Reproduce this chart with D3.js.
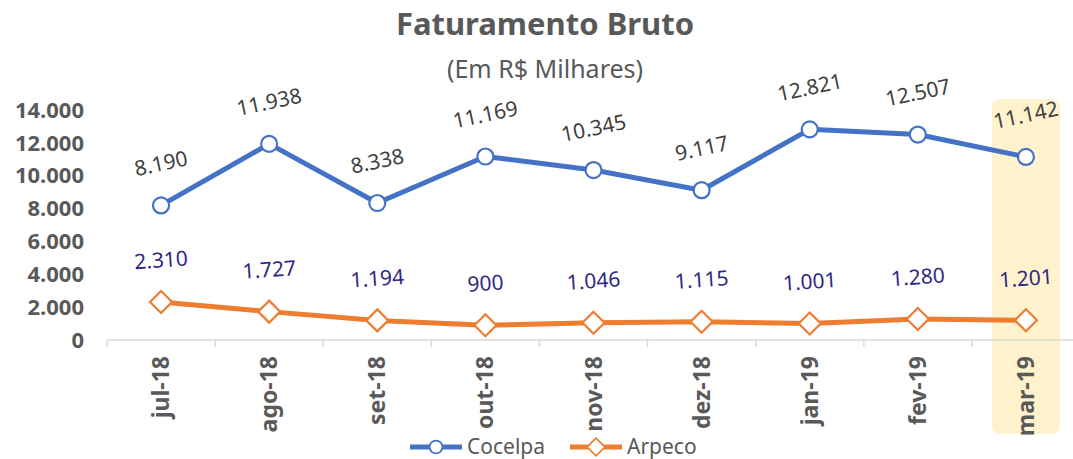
<!DOCTYPE html>
<html>
<head>
<meta charset="utf-8">
<script src="https://cdn.jsdelivr.net/npm/d3@7"></script>
<style>
  body { margin: 0; background: #fff; }
  svg { display: block; font-family: 'Noto Sans', 'Open Sans', sans-serif; }
</style>
</head>
<body>
<div id="chart"></div>
<script>
// data
const months = ['jul-18', 'ago-18', 'set-18', 'out-18', 'nov-18', 'dez-18', 'jan-19', 'fev-19', 'mar-19'];
const cocelpa = [8190, 11938, 8338, 11169, 10345, 9117, 12821, 12507, 11142];
const arpeco = [2310, 1727, 1194, 900, 1046, 1115, 1001, 1280, 1201];
const yTicks = [0, 2000, 4000, 6000, 8000, 10000, 12000, 14000];
const highlighted = 'mar-19';

const W = 1073;
const H = 459;
const M = { left: 107, right: 1080, top: 110, bottom: 340 };
const GRAY = '#595959';

const fmt = (v) => d3.format(',')(v).replace(/,/g, '.');

const svg = d3.select('#chart').append('svg')
  .attr('width', W)
  .attr('height', H);

const x = d3.scaleBand()
  .domain(months)
  .range([M.left, M.right]);

const y = d3.scaleLinear()
  .domain([0, 14000])
  .range([M.bottom, M.top]);

const cx = (d) => x(d) + x.bandwidth() / 2;

// highlight behind last month
svg.append('rect')
  .attr('x', cx(highlighted) - 34)
  .attr('y', 99)
  .attr('width', 68)
  .attr('height', 335)
  .attr('rx', 8)
  .attr('fill', '#fff2cc');

// title
svg.append('text')
  .attr('x', 545)
  .attr('y', 35)
  .attr('text-anchor', 'middle')
  .attr('font-size', 31)
  .attr('font-weight', 'bold')
  .attr('fill', GRAY)
  .text('Faturamento Bruto');

svg.append('text')
  .attr('x', 545)
  .attr('y', 78)
  .attr('text-anchor', 'middle')
  .attr('font-size', 25)
  .attr('fill', GRAY)
  .text('(Em R$ Milhares)');

// y axis labels (no line)
svg.append('g')
  .selectAll('text')
  .data(yTicks)
  .join('text')
  .attr('x', 84)
  .attr('y', (d) => y(d))
  .attr('dy', '0.35em')
  .attr('text-anchor', 'end')
  .attr('font-size', 22)
  .attr('font-weight', 'bold')
  .attr('fill', GRAY)
  .text(fmt);

// x axis: line with ticks at band edges
const xAxis = svg.append('g').attr('transform', `translate(0,${M.bottom})`);
xAxis.append('line')
  .attr('x1', M.left)
  .attr('x2', M.right)
  .attr('stroke', '#d9d9d9')
  .attr('stroke-width', 1.5);
xAxis.selectAll('line.tick')
  .data(months)
  .join('line')
  .attr('class', 'tick')
  .attr('x1', (d) => x(d))
  .attr('x2', (d) => x(d))
  .attr('y1', 0)
  .attr('y2', 7)
  .attr('stroke', '#d9d9d9')
  .attr('stroke-width', 1.5);
xAxis.selectAll('text')
  .data(months)
  .join('text')
  .attr('transform', (d) => `translate(${cx(d)},16) rotate(-90)`)
  .attr('dy', '0.35em')
  .attr('text-anchor', 'end')
  .attr('font-size', 23)
  .attr('font-weight', 'bold')
  .attr('fill', GRAY)
  .text((d) => d);

const line = d3.line()
  .x((d, i) => cx(months[i]))
  .y((d) => y(d));

const series = [
  { name: 'Cocelpa', values: cocelpa, color: '#4472c4', label: '#404040', rot: -12, marker: 'circle' },
  { name: 'Arpeco', values: arpeco, color: '#ed7d31', label: '#2e2883', rot: -4, marker: 'diamond' },
];

function drawMarker(g, s) {
  if (s.marker === 'circle') {
    g.append('circle')
      .attr('r', 8)
      .attr('fill', '#fff')
      .attr('stroke', s.color)
      .attr('stroke-width', 2.2);
  } else {
    g.append('path')
      .attr('d', 'M0,-11L11,0L0,11L-11,0Z')
      .attr('fill', '#fff')
      .attr('stroke', s.color)
      .attr('stroke-width', 2.2);
  }
}

series.forEach((s) => {
  svg.append('path')
    .datum(s.values)
    .attr('d', line)
    .attr('fill', 'none')
    .attr('stroke', s.color)
    .attr('stroke-width', 5)
    .attr('stroke-linejoin', 'round');

  svg.append('g')
    .selectAll('g')
    .data(s.values)
    .join('g')
    .attr('transform', (d, i) => `translate(${cx(months[i])},${y(d)})`)
    .each(function (d) { drawMarker(d3.select(this), s); });

  svg.append('g')
    .selectAll('text')
    .data(s.values)
    .join('text')
    .attr('transform', (d, i) => `translate(${cx(months[i])},${y(d) - 42}) rotate(${s.rot})`)
    .attr('dy', '0.35em')
    .attr('text-anchor', 'middle')
    .attr('font-size', 21)
    .attr('fill', s.label)
    .text(fmt);
});

// legend
const legend = svg.append('g').attr('transform', 'translate(0,447)');
const legendX = [410, 570];
series.forEach((s, i) => {
  const g = legend.append('g').attr('transform', `translate(${legendX[i]},0)`);
  g.append('line')
    .attr('x1', 0)
    .attr('x2', 52)
    .attr('stroke', s.color)
    .attr('stroke-width', 5);
  const m = g.append('g').attr('transform', 'translate(26,0) scale(0.8)');
  drawMarker(m, s);
  g.append('text')
    .attr('x', 57)
    .attr('dy', '0.35em')
    .attr('font-size', 21)
    .attr('fill', GRAY)
    .text(s.name);
});
</script>
</body>
</html>
